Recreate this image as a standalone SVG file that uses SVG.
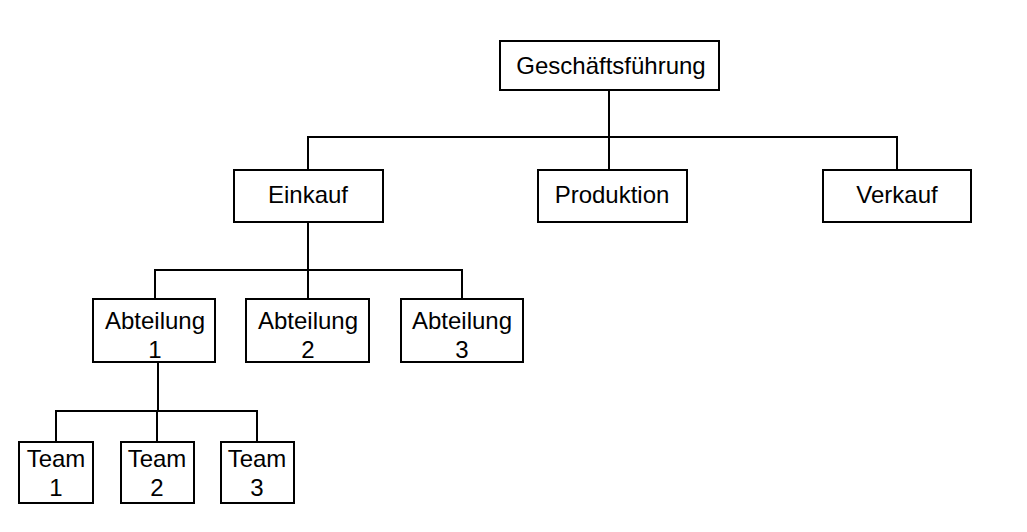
<svg xmlns="http://www.w3.org/2000/svg" width="1027" height="532" viewBox="0 0 1027 532">
<style>
rect{fill:#fff;stroke:#000;stroke-width:2}
.c{fill:none;stroke:#000;stroke-width:2}
text{font-family:"Liberation Sans",Arial,sans-serif;font-size:24px;text-anchor:middle;fill:#000}
</style>
<rect x="0" y="0" width="1027" height="532" style="stroke:none"/>
<g id="connectors">
<path class="c" d="M609 90V170M308 170V137H897V170M308 222V270M155 299V270H462V299M308 270V299M158 362V411M56 442V411H257V442M157 411V442"/>
</g>
<g id="n-gf"><rect x="500" y="41" width="219" height="49"/><text x="611" y="74">Geschäftsführung</text></g>
<g id="n-einkauf"><rect x="234" y="170" width="149" height="52"/><text x="308" y="203">Einkauf</text></g>
<g id="n-produktion"><rect x="538" y="170" width="149" height="52"/><text x="612" y="203">Produktion</text></g>
<g id="n-verkauf"><rect x="823" y="170" width="148" height="52"/><text x="897" y="203">Verkauf</text></g>
<g id="n-abt1"><rect x="93" y="299" width="122" height="63"/><text x="155" y="329">Abteilung</text><text x="155" y="358">1</text></g>
<g id="n-abt2"><rect x="246" y="299" width="123" height="63"/><text x="308" y="329">Abteilung</text><text x="308" y="358">2</text></g>
<g id="n-abt3"><rect x="401" y="299" width="122" height="63"/><text x="462" y="329">Abteilung</text><text x="462" y="358">3</text></g>
<g id="n-team1"><rect x="19" y="442" width="74" height="61"/><text x="56" y="467">Team</text><text x="56" y="496">1</text></g>
<g id="n-team2"><rect x="121" y="442" width="73" height="61"/><text x="157" y="467">Team</text><text x="157" y="496">2</text></g>
<g id="n-team3"><rect x="221" y="442" width="73" height="61"/><text x="257" y="467">Team</text><text x="257" y="496">3</text></g>
</svg>
